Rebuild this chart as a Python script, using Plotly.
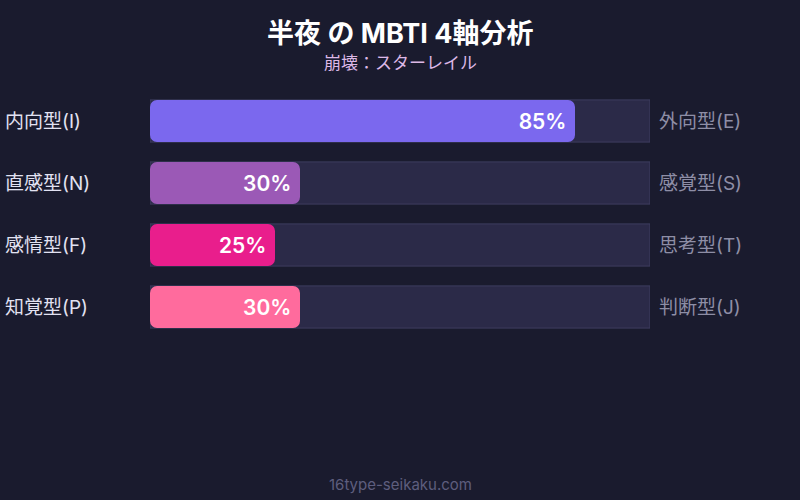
import plotly.graph_objects as go

# data
axes = ["EI", "NS", "FT", "PJ"]
left_labels = ["内向型(I)", "直感型(N)", "感情型(F)", "知覚型(P)"]
right_labels = ["外向型(E)", "感覚型(S)", "思考型(T)", "判断型(J)"]
scores = [85, 30, 25, 30]
bar_colors = ["#7b68ee", "#9b59b6", "#e91e8c", "#ff6b9d"]
track_max = [100, 100, 100, 100]

FONT = "Inter, Noto Sans CJK JP, sans-serif"
BG = "#1a1b2e"
W, H = 800, 500
plot_top, plot_bottom = 90, 338


def py(pixel_y):
    # pixel row -> paper coordinate
    return (plot_bottom - pixel_y) / (plot_bottom - plot_top)


fig = go.Figure()

# background track
fig.add_trace(go.Bar(
    y=axes, x=track_max, orientation="h",
    marker=dict(color="#2b2a48", line=dict(color="#3e3d60", width=1)),
    width=0.68, hoverinfo="skip", showlegend=False))

# score bars (explicit base -> both ends rounded)
fig.add_trace(go.Bar(
    y=axes, x=scores, base=[0] * len(scores), orientation="h",
    marker=dict(color=bar_colors, cornerradius=7, line=dict(width=0)),
    width=0.68,
    text=[f"{v}%&nbsp;" for v in scores],
    textposition="inside", insidetextanchor="end",
    textfont=dict(family=FONT, size=21, color="white", weight=600),
    showlegend=False))

annotations = []
for cat, l, r in zip(axes, left_labels, right_labels):
    annotations.append(dict(x=-0.294, y=cat, xref="paper", yref="y", text=l,
                            xanchor="left", showarrow=False,
                            font=dict(family=FONT, size=19, color="#e2e2f2")))
    annotations.append(dict(x=1.014, y=cat, xref="paper", yref="y", text=r,
                            xanchor="left", showarrow=False,
                            font=dict(family=FONT, size=19, color="#8e8ea6")))

annotations += [
    dict(x=0.5, y=py(33), xref="paper", yref="paper", yanchor="middle",
         text="<b>半夜 の MBTI 4軸分析</b>",
         showarrow=False, font=dict(family=FONT, size=27, color="white")),
    dict(x=0.5, y=py(63), xref="paper", yref="paper", yanchor="middle",
         text="崩壊：スターレイル",
         showarrow=False, font=dict(family=FONT, size=17, color="#dcb8e6")),
    dict(x=0.5, y=py(484), xref="paper", yref="paper", yanchor="middle",
         text="16type-seikaku.com",
         showarrow=False, font=dict(family=FONT, size=15, color="#5e5e7e")),
]

fig.update_layout(
    width=W, height=H,
    paper_bgcolor=BG, plot_bgcolor=BG,
    barmode="overlay",
    margin=dict(l=150, r=150, t=plot_top, b=H - plot_bottom),
    xaxis=dict(range=[0, 100], visible=False, fixedrange=True),
    yaxis=dict(autorange="reversed", visible=False, categoryorder="array",
               categoryarray=axes, fixedrange=True),
    annotations=annotations,
)

fig.write_html("out.html", config={"displayModeBar": False},
               post_script="document.body.style.margin='0';document.body.style.background='#1a1b2e';")
